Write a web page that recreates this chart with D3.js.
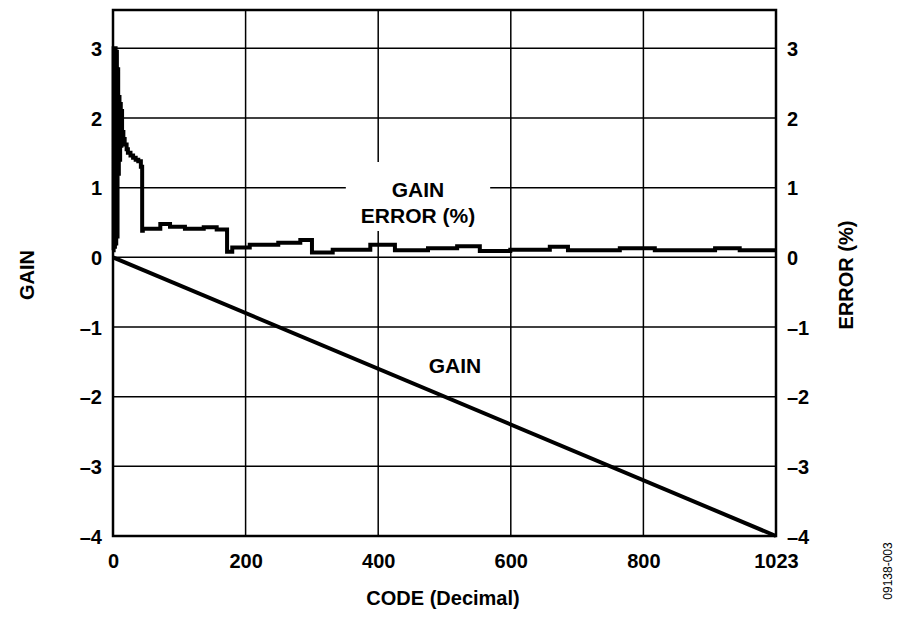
<!DOCTYPE html>
<html>
<head>
<meta charset="utf-8">
<script src="https://cdn.jsdelivr.net/npm/d3@7"></script>
<style>
  body { margin: 0; background: #fff; }
  text { font-family: "Liberation Sans", Arial, sans-serif; font-weight: bold; fill: #000; }
</style>
</head>
<body>
<svg id="chart" width="900" height="617"></svg>
<script>
// tick labels
var xTickLabels = ["0", "200", "400", "600", "800", "1023"];
var yTicks = [-4, -3, -2, -1, 0, 1, 2, 3];

// gain: straight line over the full code range
var gainCodes = [0, 1023];
var gainValues = [0, -4];

// gain error (%), stepped
var errCodes = [0, 1, 2, 3, 4, 5, 6, 7, 8, 9, 10, 11, 12, 13, 14, 16, 18, 21, 23, 27, 31, 35, 39, 43, 45,
                46, 73, 88, 111, 140, 160, 176, 184, 211, 255, 289, 307, 339, 397, 435,
                486, 531, 566, 613, 674, 702, 782, 836, 929, 967, 1023];
var errValues = [0.1, 3.0, 0.15, 3.0, 0.2, 2.95, 0.3, 2.7, 1.2, 2.3, 1.4, 2.2, 1.6, 2.1, 1.8, 1.7, 1.62, 1.55, 1.5, 1.46, 1.43, 1.4, 1.38, 1.3, 0.38,
                 0.41, 0.48, 0.44, 0.41, 0.43, 0.4, 0.08, 0.14, 0.18, 0.21, 0.25, 0.07, 0.11, 0.18, 0.1,
                 0.13, 0.16, 0.09, 0.11, 0.15, 0.1, 0.13, 0.1, 0.13, 0.1, 0.1];

var margin = {top: 10, left: 113, right: 124, bottom: 81};
var svg = d3.select("#chart");
var width = 900 - margin.left - margin.right,
    height = 617 - margin.top - margin.bottom;

var x = d3.scaleLinear().domain([0, 1023]).range([0, width]);
var y = d3.scaleLinear().domain([-4, 3.55]).range([height, 0]);
var xTickVals = xTickLabels.map(function(d, i) { return i * 1023 / 5; });

var g = svg.append("g").attr("transform", "translate(" + margin.left + "," + margin.top + ")");

// grid
g.append("g").selectAll("line").data(xTickVals.slice(1, 5)).enter().append("line")
    .attr("x1", x).attr("x2", x).attr("y1", 0).attr("y2", height)
    .attr("stroke", "#000").attr("stroke-width", 1.5);
g.append("g").selectAll("line").data(yTicks.filter(function(d) { return d != -4; })).enter().append("line")
    .attr("x1", 0).attr("x2", width).attr("y1", y).attr("y2", y)
    .attr("stroke", "#000").attr("stroke-width", 1.5);

// axes (labels only)
var xAxis = d3.axisBottom(x).tickValues(xTickVals).tickSize(0).tickPadding(18)
    .tickFormat(function(d, i) { return xTickLabels[i]; });
var yFmt = function(d) { return d < 0 ? "\u2013" + Math.abs(d) : d; };
var gx = g.append("g").attr("transform", "translate(0," + height + ")").call(xAxis);
var gl = g.append("g").call(d3.axisLeft(y).tickValues(yTicks).tickSize(0).tickPadding(11).tickFormat(yFmt));
var gr = g.append("g").attr("transform", "translate(" + width + ",0)")
    .call(d3.axisRight(y).tickValues(yTicks).tickSize(0).tickPadding(11).tickFormat(yFmt));
[gx, gl, gr].forEach(function(a) {
    a.select(".domain").remove();
    a.selectAll("text").style("font-size", "20px").style("font-family", null);
});
gl.selectAll("text").attr("dy", "0.36em");
gr.selectAll("text").attr("dy", "0.36em");

// curve labels, with gaps cut in the grid
var gap = g.append("rect").attr("fill", "#fff");
var errLabel = g.append("text").attr("text-anchor", "middle").style("font-size", "21px")
    .attr("transform", "translate(" + (418 - margin.left) + "," + (197 - margin.top) + ")");
errLabel.append("tspan").attr("x", 0).attr("y", 0).text("GAIN");
errLabel.append("tspan").attr("x", 0).attr("y", 26).text("ERROR (%)");
var bb = errLabel.node().getBBox();
gap.attr("x", 418 - margin.left + bb.x - 15).attr("y", 197 - margin.top + bb.y - 16)
    .attr("width", bb.width + 30).attr("height", bb.height + 20);

g.append("text").attr("x", 455 - margin.left).attr("y", 373 - margin.top)
    .attr("text-anchor", "middle").style("font-size", "21px").text("GAIN");

// lines
var errLine = d3.line().x(function(d, i) { return x(errCodes[i]); })
    .y(function(d) { return y(d); }).curve(d3.curveStepAfter);
g.append("path").datum(errValues).attr("d", errLine)
    .attr("fill", "none").attr("stroke", "#000").attr("stroke-width", 4);

var gainLine = d3.line().x(function(d, i) { return x(gainCodes[i]); }).y(function(d) { return y(d); });
g.append("path").datum(gainValues).attr("d", gainLine)
    .attr("fill", "none").attr("stroke", "#000").attr("stroke-width", 4);

// frame
g.append("rect").attr("width", width).attr("height", height)
    .attr("fill", "none").attr("stroke", "#000").attr("stroke-width", 2.5);

// axis titles
svg.append("text").attr("x", 443).attr("y", 605).attr("text-anchor", "middle")
    .style("font-size", "20px").text("CODE (Decimal)");
svg.append("text").attr("transform", "translate(34,275) rotate(-90)").attr("text-anchor", "middle")
    .style("font-size", "20px").text("GAIN");
svg.append("text").attr("transform", "translate(853,275) rotate(-90)").attr("text-anchor", "middle")
    .style("font-size", "20px").text("ERROR (%)");
svg.append("text").attr("transform", "translate(892,571) rotate(-90)").attr("text-anchor", "middle")
    .style("font-size", "12px").style("font-weight", "normal").text("09138-003");
</script>
</body>
</html>
